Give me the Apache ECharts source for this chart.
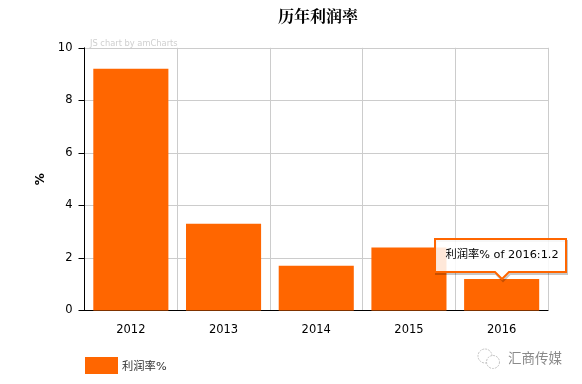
<!DOCTYPE html>
<html><head><meta charset="utf-8">
<style>html,body{margin:0;padding:0;background:#fff}#c{width:582px;height:384px}</style>
<script src="https://cdn.jsdelivr.net/npm/echarts@6/dist/echarts.min.js"></script>
</head><body><div id="c"></div>
<script>
const categories = ['2012','2013','2014','2015','2016'];
const rate = [9.2,3.3,1.7,2.4,1.2];
const yTicks = {min:0,max:10,interval:2};
const seriesName = '利润率%';
const titleText = '历年利润率';
const watermark = 'JS chart by amCharts';
const brand = '汇商传媒';
const FONT = '"DejaVu Sans","Noto Sans CJK SC",sans-serif';
const ORANGE = '#ff6600';
const last = categories.length-1;
const chart = echarts.init(document.getElementById('c'),null,{renderer:'canvas'});
chart.setOption({
  animation:false,
  backgroundColor:'#fff',
  title:{text:titleText,left:278,top:8,padding:0,textStyle:{fontFamily:'"Noto Serif CJK SC","Noto Sans CJK SC",serif',fontSize:16,fontWeight:'bold',color:'#000'}},
  grid:{left:84.5,right:34,top:47.8,bottom:73.5,containLabel:false},
  legend:{data:[seriesName],left:85,top:357,padding:0,itemWidth:33,itemHeight:17,itemGap:0,icon:'rect',selectedMode:false,
    formatter:n=>`{a|${n}}`,
    textStyle:{fontFamily:FONT,fontSize:11.3,color:'#333',padding:[0,0,0,-1],rich:{a:{fontFamily:FONT,fontSize:11.3,color:'#333',padding:[4,0,0,0]}}}},
  xAxis:{type:'category',data:categories,
    axisLine:{lineStyle:{color:'#000',width:1}},
    axisTick:{alignWithLabel:true,length:5,lineStyle:{color:'#000'}},
    axisLabel:{fontFamily:FONT,fontSize:11.5,color:'#000',margin:14},
    splitLine:{show:true,lineStyle:{color:'#cccccc',width:1}}},
  yAxis:{type:'value',min:yTicks.min,max:yTicks.max,interval:yTicks.interval,
    name:'%',nameLocation:'middle',nameGap:36,nameTextStyle:{fontFamily:FONT,fontSize:12,fontWeight:'bold',color:'#000'},
    axisLine:{show:true,lineStyle:{color:'#000',width:1}},
    axisTick:{show:true,length:6,lineStyle:{color:'#000'}},
    axisLabel:{fontFamily:FONT,fontSize:11.5,color:'#000',margin:12},
    splitLine:{show:true,lineStyle:{color:'#cccccc',width:1}}},
  series:[
    {type:'bar',name:seriesName,data:rate,barWidth:'81%',itemStyle:{color:ORANGE},silent:true},
    {type:'custom',name:'callout',data:[[last,rate[last]]],encode:{x:0,y:1},z:10,silent:true,clip:false,
     renderItem(params,api){
       const p = api.coord([api.value(0),api.value(1)]);
       const x=Math.round(p[0]), y=Math.round(p[1]);
       const l=x-67,r=x+64,t=y-40,b=y-7;
       const path=`M${l} ${t}L${r} ${t}L${r} ${b}L${x+7} ${b}L${x} ${y}L${x-7} ${b}L${l} ${b}Z`;
       const shape={pathData:path,layout:'center',x:l,y:t,width:r-l,height:y-t};
       return {type:'group',children:[
         {type:'path',shape:shape,x:1,y:2,style:{fill:'none',stroke:'rgba(0,0,0,0.22)',lineWidth:2}},
         {type:'path',shape:shape,style:{fill:'rgba(255,255,255,0.85)',stroke:ORANGE,lineWidth:2}},
         {type:'text',style:{text:`${seriesName} of ${categories[last]}:${rate[last]}`,x:(l+r)/2+1.5,y:(t+b)/2,align:'center',verticalAlign:'middle',
           fontFamily:FONT,fontSize:11.3,fill:'#000'}}
       ]};
     }}
  ],
  graphic:[
    {type:'text',left:90,top:40,silent:true,z:5,style:{text:watermark,fontFamily:FONT,fontSize:8.3,fill:'#cfcfcf'}},
    {type:'text',left:508,top:351,silent:true,style:{text:brand,fontFamily:'"Noto Sans CJK SC",sans-serif',fontSize:13.5,fill:'#8a8a8a'}},
    {type:'circle',shape:{cx:485,cy:356,r:7},silent:true,style:{fill:'none',stroke:'#c4c4c4',lineWidth:1,lineDash:[2,1]}},
    {type:'circle',shape:{cx:493,cy:362,r:6.5},silent:true,style:{fill:'#fff',stroke:'#c4c4c4',lineWidth:1,lineDash:[2,1]}}
  ]
});
</script></body></html>
